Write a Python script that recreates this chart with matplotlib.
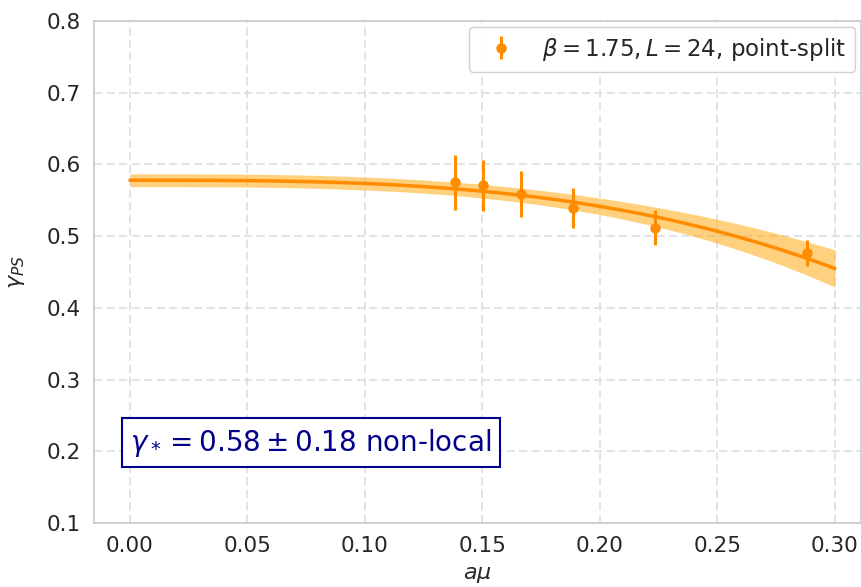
import matplotlib
matplotlib.use("Agg")
import numpy as np
import matplotlib.pyplot as plt
import seaborn as sns

# measured gamma_PS vs a*mu (beta = 1.75, L = 24, point-split)
AMU = [0.1383, 0.1504, 0.1662, 0.1887, 0.2233, 0.2882]
GAMMA = [0.575, 0.571, 0.559, 0.539, 0.512, 0.476]
GAMMA_ERR = [0.0385, 0.0355, 0.032, 0.028, 0.024, 0.018]

# fit gamma(x) = A - B x^3 with parameter uncertainties
FIT_A, FIT_A_ERR = 0.578, 0.009
FIT_B, FIT_B_ERR = 4.56, 0.90
FIT_XMAX = 0.30

C_POINT = "darkorange"
C_BAND = "orange"
C_BOX = "darkblue"

sns.set_theme(style="whitegrid")
plt.rcParams["font.family"] = ["DejaVu Sans"]

fig = plt.figure(figsize=(8.62, 5.87), dpi=100)
ax = fig.add_axes([94 / 862, 64 / 587, 767 / 862, 502 / 587])

x = np.linspace(0.0, FIT_XMAX, 200)
fit = FIT_A - FIT_B * x**3
err = np.sqrt(FIT_A_ERR**2 + (FIT_B_ERR * x**3) ** 2)
ax.fill_between(x, fit - err, fit + err, color=C_BAND, alpha=0.5, lw=0)
ax.plot(x, fit, color=C_POINT, lw=2.5)

ax.errorbar(AMU, GAMMA, yerr=GAMMA_ERR, fmt="o", color=C_POINT,
            ms=6.5, elinewidth=2.2, capsize=0,
            label=r"$\beta = 1.75, L = 24$, point-split")

ax.text(0.0, 0.212, r"$\gamma_* = 0.58 \pm 0.18$ non-local",
        fontsize=20, color=C_BOX, ha="left", va="center",
        bbox=dict(boxstyle="square,pad=0.3", facecolor="white",
                  edgecolor=C_BOX, lw=1.5))

ax.set_xlim(-0.0153, 0.3111)
ax.set_ylim(0.1, 0.8)
ax.set_xticks(np.arange(0.0, 0.301, 0.05))
ax.set_xticklabels([f"{t:.2f}" for t in np.arange(0.0, 0.301, 0.05)])
ax.set_yticks(np.arange(0.1, 0.801, 0.1))
ax.set_yticklabels([f"{t:.1f}" for t in np.arange(0.1, 0.801, 0.1)])
ax.tick_params(labelsize=15.5, colors=".15")
ax.grid(True, color="#dadfe5", lw=1.2, dashes=(5, 2.5))
ax.set_axisbelow(True)
ax.set_xlabel(r"$a\mu$", fontsize=16, labelpad=6)
ax.set_ylabel(r"$\gamma_{PS}$", fontsize=16, labelpad=14)
ax.legend(loc="upper right", fontsize=16.5, framealpha=0.9,
          borderaxespad=0.25)

fig.savefig("out.png", dpi=100)
